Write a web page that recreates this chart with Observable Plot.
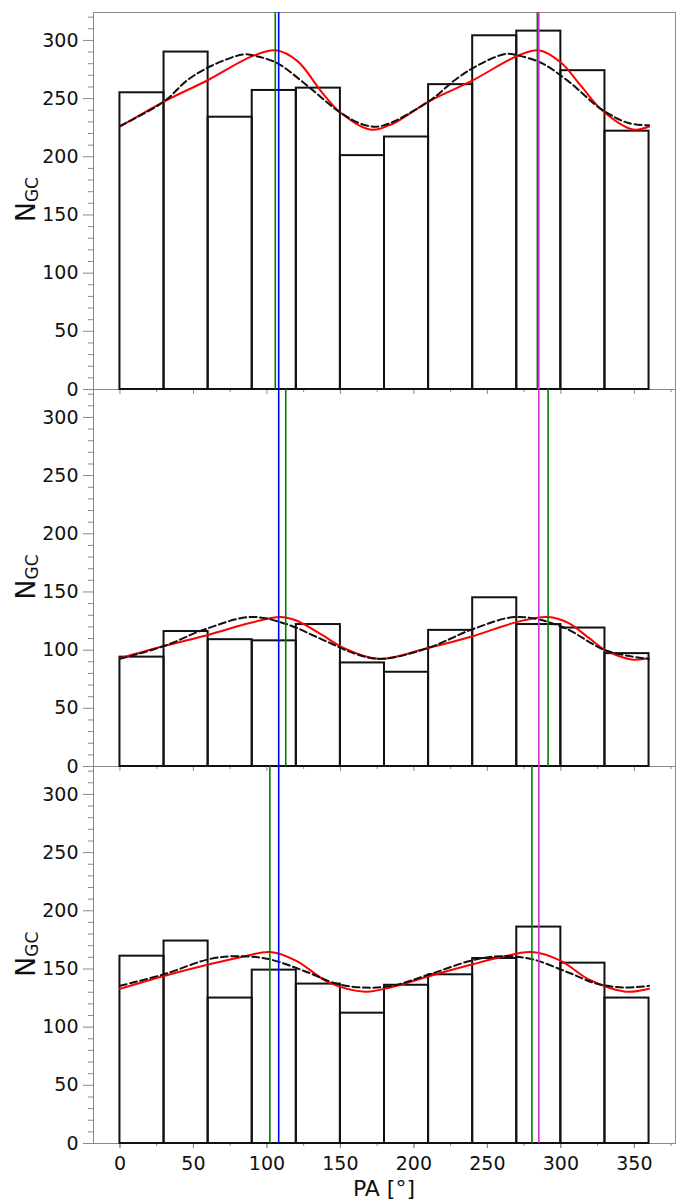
<!DOCTYPE html>
<html>
<head>
<meta charset="utf-8">
<script src="https://cdn.jsdelivr.net/npm/d3@7"></script>
<script src="https://cdn.jsdelivr.net/npm/@observablehq/plot@0.6"></script>
<style>
  html, body { margin: 0; padding: 0; background: #fff; }
  #chart svg { display: block; }
</style>
</head>
<body>
<div id="chart"></div>
<script>
// ---------- data ----------
const panels = ["top", "middle", "bottom"];
const binStarts = [0, 30, 60, 90, 120, 150, 180, 210, 240, 270, 300, 330];
const binWidth = 30;

const countsTop    = [255, 290, 234, 257, 259, 201, 217, 262, 304, 308, 274, 222];
const countsMiddle = [94, 116, 109, 108, 122, 89, 81, 117, 145, 122, 119, 97];
const countsBottom = [161, 174, 125, 149, 137, 112, 136, 145, 159, 186, 155, 125];

// red model curve [PA, N]
const redTop = [[0,226],[30,247.5],[60,266],[90,286.5],[106,291.5],[121,282],[137,256],[150,238],[170,223.5],[185,228],[210,247.5],[239,265],[271,287],[285,291.5],[300,281],[314,260.5],[328,240],[349,223.5],[360,226]];
const redMiddle = [[0,93],[30,103.5],[61,113.5],[89,123.5],[109,128.5],[120,125.5],[137,113.5],[152,102],[176,92.5],[210,102],[240,112],[271,124.5],[291,128.5],[305,123.5],[319,110.5],[331,99.5],[348,92],[360,93]];
const redBottom = [[0,133],[30,144],[61,154],[85,161],[102,164.5],[120,157],[142,138.5],[167,130.5],[185,134.5],[211,144],[240,154],[259,160],[280,164.5],[300,157],[319,141],[344,130.5],[360,133]];

// dashed black curve [PA, N]
const dashTop = [[0,226.5],[30,247.5],[46,266],[62,278],[84,288],[91,287],[107,280.5],[128,260.5],[150,238],[166,227.5],[178,226.5],[210,247.5],[228,266],[244,279],[263,288.5],[271,287],[287,280.5],[305,265],[328,240.5],[346,229],[360,227]];
const dashMiddle = [[0,92.5],[30,103.5],[58,118],[89,128.5],[113,122.5],[137,109.5],[161,96.5],[178,92.5],[210,102],[240,118],[270,128.5],[300,120.5],[331,99.5],[360,92.5]];
const dashBottom = [[0,135.5],[30,145.5],[61,158.5],[80,161],[101,158.5],[128,147],[147,137.5],[166,134],[185,135.5],[211,145.5],[240,157.5],[259,161],[280,158.5],[305,147],[324,137.5],[343,134],[360,135.5]];

// vertical reference lines (PA)
const bluePA = 108;
const magentaPA = 285;
const greenTop = [105.7, 284];
const greenMiddle = [112.8, 291.3];
const greenBottom = [102, 280.3];

// axis ticks
const xMajor = [0, 50, 100, 150, 200, 250, 300, 350];
const xMinor = [25, 75, 125, 175, 225, 275, 325, 375];
const yMajor = [0, 50, 100, 150, 200, 250, 300];
const yMinor = d3.range(0, 330, 10).filter(v => v % 50 !== 0);

// ---------- build tables ----------
const counts = [countsTop, countsMiddle, countsBottom];
const reds = [redTop, redMiddle, redBottom];
const dashes = [dashTop, dashMiddle, dashBottom];
const greens = [greenTop, greenMiddle, greenBottom];

const bars = panels.flatMap((p, i) => binStarts.map((s, j) => ({panel: p, x1: s, x2: s + binWidth, n: counts[i][j]})));
const redPts = panels.flatMap((p, i) => reds[i].map(([a, v]) => ({panel: p, a, v})));
const dashPts = panels.flatMap((p, i) => dashes[i].map(([a, v]) => ({panel: p, a, v})));
const blueRules = panels.map(p => ({panel: p, pa: bluePA}));
const magentaRules = panels.map(p => ({panel: p, pa: magentaPA}));
const greenRules = panels.flatMap((p, i) => greens[i].map(pa => ({panel: p, pa})));

// ---------- layout ----------
const W = 682, H = 1202, ML = 93, MR = 7, MT = 11, MB = 59;
const AX = "#8a8a8a";

const plot = Plot.plot({
  width: W, height: H,
  marginLeft: ML, marginRight: MR, marginTop: MT, marginBottom: MB,
  style: {fontFamily: "'DejaVu Sans', sans-serif", fontSize: "19px", background: "#fff", color: "#111"},
  x: {domain: [-18, 378]},
  y: {domain: [0, 324]},
  fy: {domain: panels, padding: 0, axis: null},
  marks: [
    Plot.frame({stroke: AX, strokeWidth: 1}),
    Plot.axisY({ticks: yMinor, tickSize: 5, tickFormat: () => "", label: null, stroke: AX}),
    Plot.axisY({ticks: yMajor, tickSize: 10, tickPadding: 5, label: null, stroke: AX, fill: "#111"}),
    Plot.axisX({ticks: xMinor, tickSize: 3, tickFormat: () => "", label: null, stroke: AX, facetAnchor: null}),
    Plot.axisX({ticks: xMajor, tickSize: 5, tickFormat: () => "", label: null, stroke: AX, facetAnchor: null}),
    Plot.axisX({ticks: xMajor, tickSize: 5, tickPadding: 8, label: null, stroke: AX, fill: "#111"}),
    Plot.rectY(bars, {x1: "x1", x2: "x2", y: "n", fy: "panel", fill: "none", stroke: "#111", strokeWidth: 2}),
    Plot.line(redPts, {x: "a", y: "v", fy: "panel", stroke: "#ff0000", strokeWidth: 2, curve: "catmull-rom"}),
    Plot.line(dashPts, {x: "a", y: "v", fy: "panel", stroke: "#111", strokeWidth: 2, strokeDasharray: "7,3.5", curve: "catmull-rom"}),
    Plot.ruleX(greenRules, {x: "pa", fy: "panel", stroke: "#008000", strokeWidth: 1.6}),
    Plot.ruleX(blueRules, {x: "pa", fy: "panel", stroke: "#0000ff", strokeWidth: 1.6}),
    Plot.ruleX(magentaRules, {x: "pa", fy: "panel", stroke: "#cc33cc", strokeWidth: 1.6})
  ]
});

// ---------- axis titles ----------
const svg = d3.select(plot);
const panelH = (H - MT - MB) / panels.length;
panels.forEach((p, i) => {
  const cy = MT + (i + 0.5) * panelH;
  const t = svg.append("text")
    .attr("transform", `translate(35,${cy}) rotate(-90)`)
    .attr("text-anchor", "middle")
    .attr("font-family", "'DejaVu Sans', sans-serif")
    .attr("font-size", 27)
    .attr("fill", "#111");
  t.append("tspan").text("N");
  t.append("tspan").attr("font-size", 17).attr("dy", "0.18em").text("GC");
});
svg.append("text")
  .attr("x", (ML + W - MR) / 2)
  .attr("y", 1196)
  .attr("text-anchor", "middle")
  .attr("font-family", "'DejaVu Sans', sans-serif")
  .attr("font-size", 22)
  .attr("fill", "#111")
  .text("PA [°]");

document.getElementById("chart").appendChild(plot);
</script>
</body>
</html>
